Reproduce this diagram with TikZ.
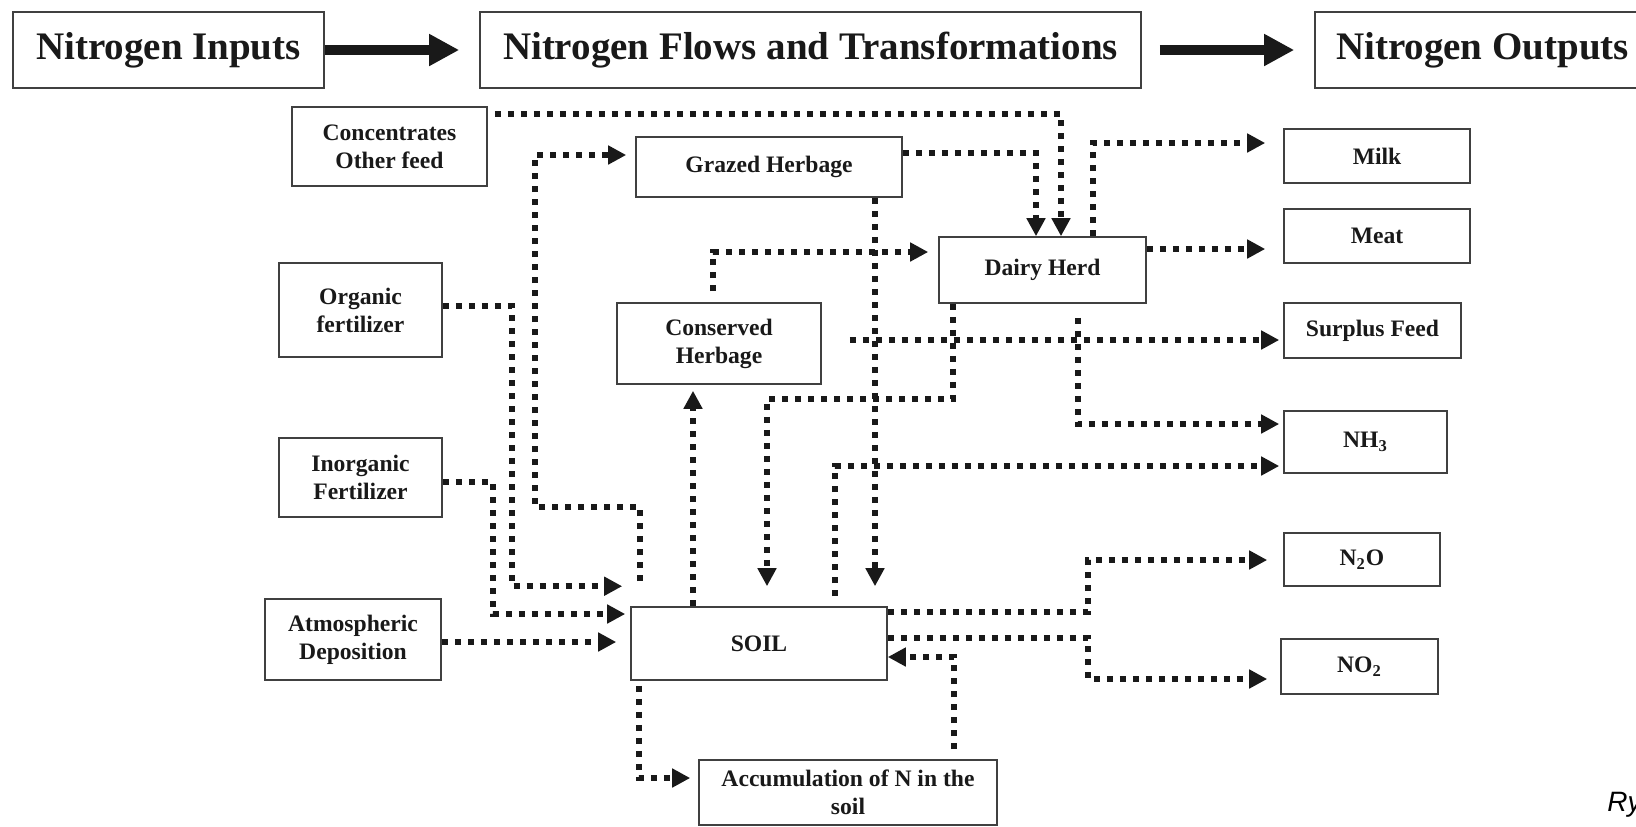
\documentclass[tikz,border=0pt]{standalone}
\usepackage{fontspec}
\setmainfont{Liberation Serif}
\newfontfamily\capfont{Liberation Sans}
\usetikzlibrary{calc,arrows.meta}
\newcommand{\pxunit}{0.5pt}

\begin{document}
\begin{tikzpicture}[x=\pxunit,y=-\pxunit,
	box/.style={draw=black!75, line width=0.8pt, align=center, inner sep=0pt, text=black!90,
		font=\fontsize{11.8}{14}\selectfont\bfseries},
	headbox/.style={box, font=\fontsize{19.5}{23}\selectfont\bfseries},
	wh/.style 2 args={minimum width=#1*\pxunit, minimum height=#2*\pxunit},
	flow/.style={line width=3pt, dash pattern=on 3pt off 3.5pt, black!90,
		-{Triangle[length=9pt,width=9pt]}},
	bigarrow/.style={line width=5pt, black!90, -{Triangle[length=15pt,width=15pt]}}]
	\useasboundingbox (0,0) rectangle (1636,826);
	\fill[white] (0,0) rectangle (1636,826);
	\clip (0,0) rectangle (1636,826);

	% top row
	\node[headbox, wh={311}{76}] (inputs) at (168.5,50) {Nitrogen Inputs};
	\node[headbox, wh={661}{76}] (flows) at (810.5,50) {Nitrogen Flows and Transformations};
	\node[headbox, wh={335}{76}] (outputs) at (1482.5,50) {Nitrogen Outputs};
	\draw[bigarrow, shorten >=10pt] (inputs.east) -- (flows.west);
	\draw[bigarrow, shorten <=9pt, shorten >=10pt] (flows.east) -- (outputs.west);

	% inputs
	\node[box, wh={195}{79}] (conc) at (389.5,146.5) {Concentrates\\Other feed};
	\node[box, wh={163}{94}] (organic) at (360.5,310) {Organic\\fertilizer};
	\node[box, wh={163}{79}] (inorganic) at (360.5,477.5) {Inorganic\\Fertilizer};
	\node[box, wh={176}{81}] (atmos) at (353,639.5) {Atmospheric\\Deposition};

	% flows and transformations
	\node[box, wh={266}{60}] (grazed) at (769,167) {Grazed Herbage};
	\node[box, wh={207}{66}] (dairy) at (1042.5,270) {Dairy Herd};
	\node[box, wh={204}{81}] (conserved) at (719,343.5) {Conserved\\Herbage};
	\node[box, wh={256}{73}] (soil) at (759,643.5) {SOIL};
	\node[box, wh={298}{65}] (accum) at (848,792.5) {Accumulation of N in the\\soil};

	% outputs
	\node[box, wh={186}{54}] (milk) at (1377,156) {Milk};
	\node[box, wh={186}{54}] (meat) at (1377,236) {Meat};
	\node[box, wh={177}{55}] (surplus) at (1372.5,330.5) {Surplus Feed};
	\node[box, wh={163}{62}] (nh3) at (1365.5,442) {NH\textsubscript{3}};
	\node[box, wh={156}{53}] (n2o) at (1362,559.5) {N\textsubscript{2}O};
	\node[box, wh={157}{55}] (no2) at (1359.5,666.5) {NO\textsubscript{2}};

	\node[anchor=west, inner sep=0pt, font=\capfont\itshape\fontsize{14}{16}\selectfont] (ry) at (1607,805) {Ry};

	% feed to the herd
	\draw[flow] ($(conc.north east)+(7,8)$) -| ($(dairy.north)+(18.5,0)$);
	\draw[flow] ($(grazed.east)+(0,-14)$) -| ($(dairy.north)+(-6.5,0)$);
	\draw[flow, shorten >=5pt] ($(conserved.north)+(-6,-11)$) |- ($(dairy.west)+(0,-18)$);
	\draw[flow, shorten >=9pt] ($(dairy.north)+(50.5,0)$) |- ($(milk.west)+(0,-13)$);
	\draw[flow, shorten >=9pt] ($(dairy.east)+(0,-21)$) -- ($(meat.west)+(0,13)$);
	\draw[flow, shorten >=2pt] ($(conserved.east)+(28,-3.5)$) -- ($(surplus.west)+(0,9.5)$);
	\draw[flow, shorten >=2pt] ($(dairy.south)+(35.5,14)$) |- ($(nh3.west)+(0,-18)$);

	% into the soil
	\draw[flow] ($(organic.east)+(0,-4)$) -- ++(69,0) |- ($(soil.north west)+(-8,-20)$);
	\draw[flow, shorten >=2.5pt] ($(inorganic.east)+(0,4.5)$) -- ++(50,0) |- ($(soil.west)+(0,-29.5)$);
	\draw[flow, shorten >=7pt] ($(atmos.east)+(0,2.5)$) -- ($(soil.west)+(0,-1.5)$);
	\draw[flow, shorten >=10pt] ($(grazed.south)+(106,0)$) -- ($(soil.north)+(116,0)$);
	\draw[flow, shorten >=10pt] ($(dairy.south)+(-89.5,0)$) -- ++(0,95) -| ($(soil.north)+(8,0)$);

	% out of the soil
	\draw[flow, shorten >=4.5pt] ($(soil.north west)+(10,-25)$) -- ++(0,-74) -- ++(-105,0) |- ($(grazed.west)+(0,-12)$);
	\draw[flow, shorten >=3pt] ($(soil.north)+(-66,0)$) -- ($(conserved.south)+(-26,0)$);
	\draw[flow, shorten >=2pt] ($(soil.north)+(76,-10)$) |- ($(nh3.west)+(0,24)$);
	\draw[flow, shorten >=8pt] ($(soil.east)+(0,-31.5)$) -- ++(200,0) |- ($(n2o.west)+(0,0.5)$);
	\draw[flow, shorten >=6.5pt] ($(soil.east)+(0,-5.5)$) -- ++(200,0) |- ($(no2.west)+(0,12.5)$);
	\draw[flow, shorten >=4pt] ($(soil.south)+(-120,5)$) |- ($(accum.west)+(0,-14.5)$);
	\draw[flow] ($(accum.north)+(106,-10)$) |- ($(soil.east)+(0,13.5)$);
\end{tikzpicture}
\end{document}
